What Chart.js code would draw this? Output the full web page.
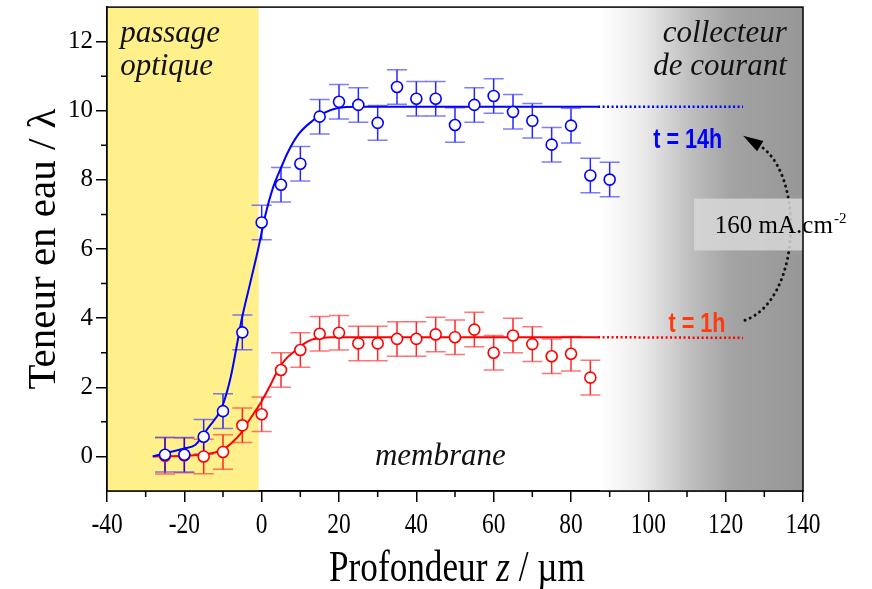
<!DOCTYPE html>
<html>
<head>
<meta charset="utf-8">
<script src="https://cdn.jsdelivr.net/npm/chart.js@4.4.1/dist/chart.umd.min.js"></script>
<style>
    html, body { margin: 0; padding: 0; background: #fff; }
    #wrap { width: 872px; height: 589px; }
</style>
</head>
<body>
<div id="wrap"><canvas id="profil" width="872" height="589"></canvas></div>
<script>
// mesures t = 14h
const depth14h = [-25, -20, -15, -10, -5, 0, 5, 10, 15, 20, 25, 30, 35, 40, 45, 50, 55, 60, 65, 70, 75, 80, 85, 90];
const water14h = [0.05, 0.05, 0.57, 1.31, 3.59, 6.77, 7.86, 8.47, 9.83, 10.26, 10.17, 9.65, 10.69, 10.35, 10.35, 9.59, 10.17, 10.43, 9.97, 9.71, 9.02, 9.57, 8.13, 8.01];
const err14h = [0.5, 0.5, 0.5, 0.5, 0.5, 0.5, 0.5, 0.5, 0.5, 0.5, 0.5, 0.5, 0.5, 0.5, 0.5, 0.5, 0.5, 0.5, 0.5, 0.5, 0.5, 0.5, 0.5, 0.5];

// mesures t = 1h
const depth1h = [-25, -20, -15, -10, -5, 0, 5, 10, 15, 20, 25, 30, 35, 40, 45, 50, 55, 60, 65, 70, 75, 80, 85];
const water1h = [0.02, 0.03, 0.0, 0.13, 0.9, 1.22, 2.5, 3.08, 3.55, 3.58, 3.27, 3.27, 3.4, 3.4, 3.53, 3.45, 3.67, 3.0, 3.5, 3.25, 2.9, 2.97, 2.28];
const err1h = [0.53, 0.5, 0.5, 0.5, 0.5, 0.5, 0.5, 0.5, 0.5, 0.5, 0.5, 0.5, 0.5, 0.5, 0.5, 0.5, 0.5, 0.5, 0.5, 0.5, 0.5, 0.5, 0.5];

// courbes d'ajustement
const fit14hX = [-28.2, -24, -20, -17.2, -14, -10.3, -8, -5.1, -3, -1, 1, 3, 4.7, 7, 9.6, 13, 16, 19.7, 25, 87];
const fit14hY = [0.0, 0.12, 0.23, 0.33, 0.8, 1.42, 2.3, 4.0, 5.0, 5.95, 7.0, 7.8, 8.27, 8.85, 9.33, 9.7, 9.93, 10.08, 10.12, 10.12];
const fit1hX = [-28, -20, -13.6, -10, -7.7, -5.5, -3.8, -2, 0, 2.2, 4.4, 6.5, 8.7, 10.8, 12.9, 15, 18, 87];
const fit1hY = [0.0, 0.02, 0.08, 0.2, 0.4, 0.65, 0.95, 1.25, 1.6, 2.05, 2.54, 2.85, 3.06, 3.25, 3.38, 3.42, 3.45, 3.45];
const tailX = [87, 124.5];
const tail14hY = [10.12, 10.12];
const tail1hY = [3.45, 3.43];

const xTicks = [-40, -20, 0, 20, 40, 60, 80, 100, 120, 140];
const xMinor = [-30, -10, 10, 30, 50, 70, 90, 110, 130];
const yTicks = [0, 2, 4, 6, 8, 10, 12];
const yMinor = [1, 3, 5, 7, 9, 11];

const BLUE = '#0000ff';
const RED = '#ff0000';

function pts(xs, ys) {
    return xs.map((x, i) => ({ x: x, y: ys[i] }));
}

function text(ctx, s, x, y, font, color, align, sx) {
    ctx.save();
    ctx.font = font;
    ctx.fillStyle = color;
    ctx.textAlign = align;
    ctx.textBaseline = 'alphabetic';
    ctx.translate(x, y);
    ctx.scale(sx, 1);
    ctx.fillText(s, 0, 0);
    ctx.restore();
}

function errorBars(ctx, xs, ys, es, stem, cap, sx, sy) {
    xs.forEach((v, i) => {
        const px = sx.getPixelForValue(v);
        const top = sy.getPixelForValue(ys[i] + es[i]);
        const bot = sy.getPixelForValue(ys[i] - es[i]);
        ctx.lineWidth = 1.5;
        ctx.strokeStyle = stem;
        ctx.beginPath();
        ctx.moveTo(px, top);
        ctx.lineTo(px, bot);
        ctx.stroke();
        ctx.strokeStyle = cap;
        ctx.beginPath();
        ctx.moveTo(px - 10, top); ctx.lineTo(px + 10, top);
        ctx.moveTo(px - 10, bot); ctx.lineTo(px + 10, bot);
        ctx.stroke();
    });
}

const decor = {
    id: 'decor',
    beforeDatasetsDraw(chart) {
        const { ctx, chartArea: a, scales: { x, y } } = chart;
        ctx.save();
        // passage optique
        ctx.fillStyle = '#fff08c';
        ctx.fillRect(a.left, a.top, x.getPixelForValue(-0.8) - a.left, a.bottom - a.top);
        // collecteur de courant
        const g0 = x.getPixelForValue(87.5);
        const grad = ctx.createLinearGradient(g0, 0, a.right, 0);
        grad.addColorStop(0, '#ffffff');
        grad.addColorStop(0.2, '#ececec');
        grad.addColorStop(0.45, '#bebebe');
        grad.addColorStop(0.65, '#a3a3a3');
        grad.addColorStop(1, '#979797');
        ctx.fillStyle = grad;
        ctx.fillRect(g0, a.top, a.right - g0, a.bottom - a.top);

        errorBars(ctx, depth1h, water1h, err1h, 'rgba(255,0,0,0.85)', 'rgba(255,60,60,0.7)', x, y);
        errorBars(ctx, depth14h, water14h, err14h, 'rgba(0,0,255,0.85)', 'rgba(70,70,255,0.7)', x, y);
        ctx.restore();
    },
    afterDatasetsDraw(chart) {
        const { ctx, chartArea: a, scales: { x, y } } = chart;
        ctx.save();
        const serifIt = 'italic 31px "Liberation Serif"';
        text(ctx, 'passage', x.getPixelForValue(-36.6), y.getPixelForValue(12.0), serifIt, '#111', 'left', 1);
        text(ctx, 'optique', x.getPixelForValue(-36.6), y.getPixelForValue(11.05), serifIt, '#111', 'left', 1);
        text(ctx, 'collecteur', x.getPixelForValue(135.8), y.getPixelForValue(12.0), serifIt, '#111', 'right', 1);
        text(ctx, 'de courant', x.getPixelForValue(135.8), y.getPixelForValue(11.05), serifIt, '#111', 'right', 1);
        text(ctx, 'membrane', x.getPixelForValue(29.3), y.getPixelForValue(-0.25), serifIt, '#111', 'left', 1);

        text(ctx, 't = 14h', x.getPixelForValue(110.2), y.getPixelForValue(8.93), 'bold 27px "Liberation Sans"', BLUE, 'center', 0.8);
        text(ctx, 't = 1h', x.getPixelForValue(112.6), y.getPixelForValue(3.6), 'bold 27px "Liberation Sans"', '#ff3a10', 'center', 0.8);

        // fleche pointillee
        const P = (vx, vy) => [x.getPixelForValue(vx), y.getPixelForValue(vy)];
        const s = P(125.0, 3.94), c1 = P(139.2, 4.51), c2 = P(140.5, 7.98), e = P(129.6, 8.93), tip = P(124.5, 9.28);
        ctx.strokeStyle = '#111';
        ctx.lineWidth = 3;
        ctx.lineCap = 'round';
        ctx.setLineDash([0.1, 5.5]);
        ctx.beginPath();
        ctx.moveTo(s[0], s[1]);
        ctx.bezierCurveTo(c1[0], c1[1], c2[0], c2[1], e[0], e[1]);
        ctx.stroke();
        ctx.setLineDash([]);
        const ang = Math.atan2(tip[1] - e[1], tip[0] - e[0]);
        ctx.fillStyle = '#000';
        ctx.beginPath();
        ctx.moveTo(tip[0], tip[1]);
        ctx.lineTo(e[0] + 6 * Math.cos(ang + Math.PI / 2) + 3 * Math.cos(ang), e[1] + 6 * Math.sin(ang + Math.PI / 2) + 3 * Math.sin(ang));
        ctx.lineTo(e[0] + 6 * Math.cos(ang - Math.PI / 2) + 3 * Math.cos(ang), e[1] + 6 * Math.sin(ang - Math.PI / 2) + 3 * Math.sin(ang));
        ctx.closePath();
        ctx.fill();

        // encadre densite de courant
        const b0 = P(111.8, 7.46), b1 = P(140, 5.96);
        ctx.fillStyle = 'rgba(215,215,215,0.85)';
        ctx.fillRect(b0[0], b0[1], b1[0] - b0[0], b1[1] - b0[1]);
        ctx.font = '25px "Liberation Serif"';
        const lx = x.getPixelForValue(117.2), ly = y.getPixelForValue(6.45);
        text(ctx, '160 mA.cm', lx, ly, '25px "Liberation Serif"', '#000', 'left', 1);
        const w = ctx.measureText('160 mA.cm').width;
        text(ctx, '-2', lx + w + 1, ly - 10, '15px "Liberation Serif"', '#000', 'left', 1);

        // cadre
        ctx.strokeStyle = '#000';
        ctx.lineWidth = 1.5;
        ctx.strokeRect(a.left, a.top, a.right - a.left, a.bottom - a.top);
        ctx.restore();
    },
    afterDraw(chart) {
        const { ctx, chartArea: a, scales: { x, y } } = chart;
        ctx.save();
        ctx.strokeStyle = '#000';
        ctx.lineWidth = 1.5;
        ctx.beginPath();
        xMinor.forEach(v => {
            const px = x.getPixelForValue(v);
            ctx.moveTo(px, a.bottom); ctx.lineTo(px, a.bottom + 6);
        });
        yMinor.forEach(v => {
            const py = y.getPixelForValue(v);
            ctx.moveTo(a.left, py); ctx.lineTo(a.left - 6, py);
        });
        ctx.stroke();

        x.ticks.forEach(t => {
            text(ctx, String(t.value), x.getPixelForValue(t.value), a.bottom + 42, '30px "Liberation Serif"', '#000', 'center', 0.78);
        });

        // titre axe x : Profondeur z / µm
        const sx = 0.8;
        const f1 = '44px "Liberation Serif"', f2 = 'italic 44px "Liberation Serif"';
        ctx.font = f1;
        const wA = ctx.measureText('Profondeur ').width;
        const wC = ctx.measureText(' / µm').width;
        ctx.font = f2;
        const wB = ctx.measureText('z').width;
        const tot = (wA + wB + wC) * sx;
        const cx = (a.left + a.right) / 2 + 2;
        let px = cx - tot / 2;
        const base = 581;
        text(ctx, 'Profondeur ', px, base, f1, '#000', 'left', sx);
        px += wA * sx;
        text(ctx, 'z', px, base, f2, '#000', 'left', sx);
        px += wB * sx;
        text(ctx, ' / µm', px, base, f1, '#000', 'left', sx);

        // titre axe y
        ctx.translate(55, (a.top + a.bottom) / 2);
        ctx.rotate(-Math.PI / 2);
        text(ctx, 'Teneur en eau / λ', 0, 0, '41px "Liberation Serif"', '#000', 'center', 1);
        ctx.restore();
    }
};

const ctx = document.getElementById('profil').getContext('2d');

new Chart(ctx, {
    type: 'scatter',
    data: {
        datasets: [
            {
                label: 't = 14h',
                data: pts(depth14h, water14h),
                showLine: false,
                pointStyle: 'circle',
                pointRadius: 5.5,
                pointBorderWidth: 1.6,
                pointBorderColor: BLUE,
                pointBackgroundColor: '#ffffff'
            },
            {
                label: 't = 1h',
                data: pts(depth1h, water1h),
                showLine: false,
                pointStyle: 'circle',
                pointRadius: 5.5,
                pointBorderWidth: 1.6,
                pointBorderColor: RED,
                pointBackgroundColor: '#ffffff'
            },
            {
                label: 'ajustement 14h',
                data: pts(fit14hX, fit14hY),
                showLine: true,
                borderColor: BLUE,
                borderWidth: 2,
                pointRadius: 0,
                cubicInterpolationMode: 'monotone'
            },
            {
                label: 'ajustement 1h',
                data: pts(fit1hX, fit1hY),
                showLine: true,
                borderColor: RED,
                borderWidth: 2,
                pointRadius: 0,
                cubicInterpolationMode: 'monotone'
            },
            {
                label: 'prolongement 14h',
                data: pts(tailX, tail14hY),
                showLine: true,
                borderColor: BLUE,
                borderWidth: 2.5,
                borderDash: [2, 2.5],
                pointRadius: 0
            },
            {
                label: 'prolongement 1h',
                data: pts(tailX, tail1hY),
                showLine: true,
                borderColor: RED,
                borderWidth: 2.5,
                borderDash: [2, 2.5],
                pointRadius: 0
            }
        ]
    },
    options: {
        responsive: false,
        animation: false,
        layout: { padding: { left: 0, top: 6, right: 69, bottom: 0 } },
        plugins: {
            legend: { display: false },
            tooltip: { enabled: false }
        },
        scales: {
            x: {
                type: 'linear',
                min: -40,
                max: 140,
                afterBuildTicks: s => { s.ticks = xTicks.map(v => ({ value: v })); },
                afterFit: s => { s.height = 98; s.paddingLeft = 0; s.paddingRight = 0; },
                ticks: { display: false },
                grid: { drawOnChartArea: false, drawTicks: true, tickLength: 11, color: '#000', lineWidth: 1.5 },
                border: { color: '#000', width: 1.5 }
            },
            y: {
                type: 'linear',
                min: -1,
                max: 13,
                afterBuildTicks: s => { s.ticks = yTicks.map(v => ({ value: v })); },
                afterFit: s => { s.width = 107; s.paddingTop = 0; s.paddingBottom = 0; },
                ticks: {
                    color: '#000',
                    padding: 3,
                    font: { family: '"Liberation Serif"', size: 25 }
                },
                grid: { drawOnChartArea: false, drawTicks: true, tickLength: 11, color: '#000', lineWidth: 1.5 },
                border: { color: '#000', width: 1.5 }
            }
        }
    },
    plugins: [decor]
});
</script>
</body>
</html>
